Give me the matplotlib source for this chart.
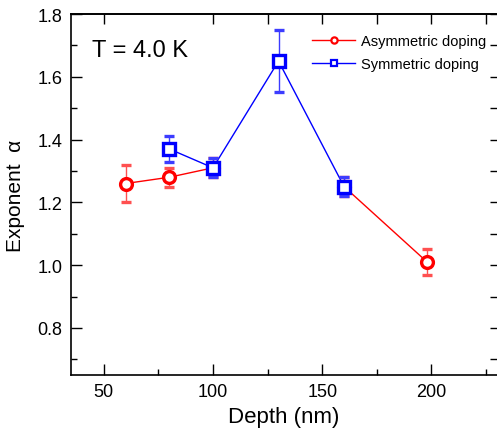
import matplotlib
matplotlib.use('Agg')
import matplotlib.pyplot as plt
from matplotlib.ticker import MultipleLocator, FixedLocator, FormatStrFormatter

plt.rcParams['font.family'] = ['Liberation Sans', 'DejaVu Sans']

# asymmetric doping (red circles)
depth_asym = [60, 80, 100, 160, 198]
alpha_asym = [1.26, 1.28, 1.31, 1.25, 1.01]
err_asym = [0.06, 0.03, 0.03, 0.03, 0.04]

# symmetric doping (blue squares)
depth_sym = [80, 100, 130, 160]
alpha_sym = [1.37, 1.31, 1.65, 1.25]
err_sym = [0.04, 0.03, 0.10, 0.03]

fig = plt.figure(figsize=(4.97, 4.39), dpi=100)
ax = fig.add_axes([71/497, 1-376/439, 426/497, 361/439])

red = '#ff0000'
blue = '#0000ff'

# red line has a gap between 100 and 160 nm
ax.plot(depth_asym[:3], alpha_asym[:3], '-', color=red, lw=1, zorder=2)
ax.plot(depth_asym[3:], alpha_asym[3:], '-', color=red, lw=1, zorder=2)
ax.errorbar(depth_asym, alpha_asym, yerr=err_asym, fmt='o', color=red,
            ecolor='#ff5050', elinewidth=1, capsize=3.5, capthick=1,
            ms=8.5, mfc='white', mec=red, mew=2.4, zorder=3)
ax.plot(depth_sym, alpha_sym, '-', color=blue, lw=1, zorder=4)
ax.errorbar(depth_sym, alpha_sym, yerr=err_sym, fmt='s', color=blue,
            ecolor='#3c3cff', elinewidth=1, capsize=3.5, capthick=1,
            ms=8, mfc='white', mec=blue, mew=2.4, zorder=5)

# legend handles
ax.plot([], [], '-o', color=red, lw=1, ms=4.5, mfc='white', mec=red, mew=1.6,
        label='Asymmetric doping')
ax.plot([], [], '-s', color=blue, lw=1, ms=4.5, mfc='white', mec=blue, mew=1.6,
        label='Symmetric doping')
ax.legend(loc='upper left', bbox_to_anchor=(0.565, 0.945), frameon=False,
          fontsize=10.5, handlelength=3.0, handletextpad=0.35, labelspacing=0.6,
          borderaxespad=0, borderpad=0, numpoints=1)

ax.set_xlim(35, 230)
ax.set_ylim(0.65, 1.8)
ax.xaxis.set_major_locator(MultipleLocator(50))
ax.xaxis.set_minor_locator(MultipleLocator(25))
ax.yaxis.set_major_locator(MultipleLocator(0.2))
ax.yaxis.set_minor_locator(MultipleLocator(0.1))
ax.yaxis.set_major_formatter(FormatStrFormatter('%.1f'))
ax.tick_params(which='both', direction='in', labelsize=13, width=1)
ax.tick_params(which='major', length=8, pad=6)
ax.tick_params(which='minor', length=4)

# top and right ticks via secondary axes
top = ax.secondary_xaxis('top')
top.xaxis.set_major_locator(FixedLocator([50, 100, 125, 150, 175, 200, 225]))
top.tick_params(direction='in', length=7, labeltop=False, width=1)
right = ax.secondary_yaxis('right')
right.yaxis.set_major_locator(MultipleLocator(0.1))
right.tick_params(direction='in', length=5, labelright=False, width=1)

for s in ax.spines.values():
    s.set_linewidth(1.2)
ax.spines['right'].set_visible(False)
top.spines['top'].set_linewidth(1.2)
right.spines['right'].set_visible(False)

ax.set_xlabel('Depth (nm)', fontsize=16, labelpad=4)
ax.set_ylabel('Exponent  \u03b1', fontsize=15, labelpad=9)
ax.text(0.05, 0.9, 'T = 4.0 K', transform=ax.transAxes, fontsize=17,
        va='center', ha='left')

fig.savefig('out.png', dpi=100)
